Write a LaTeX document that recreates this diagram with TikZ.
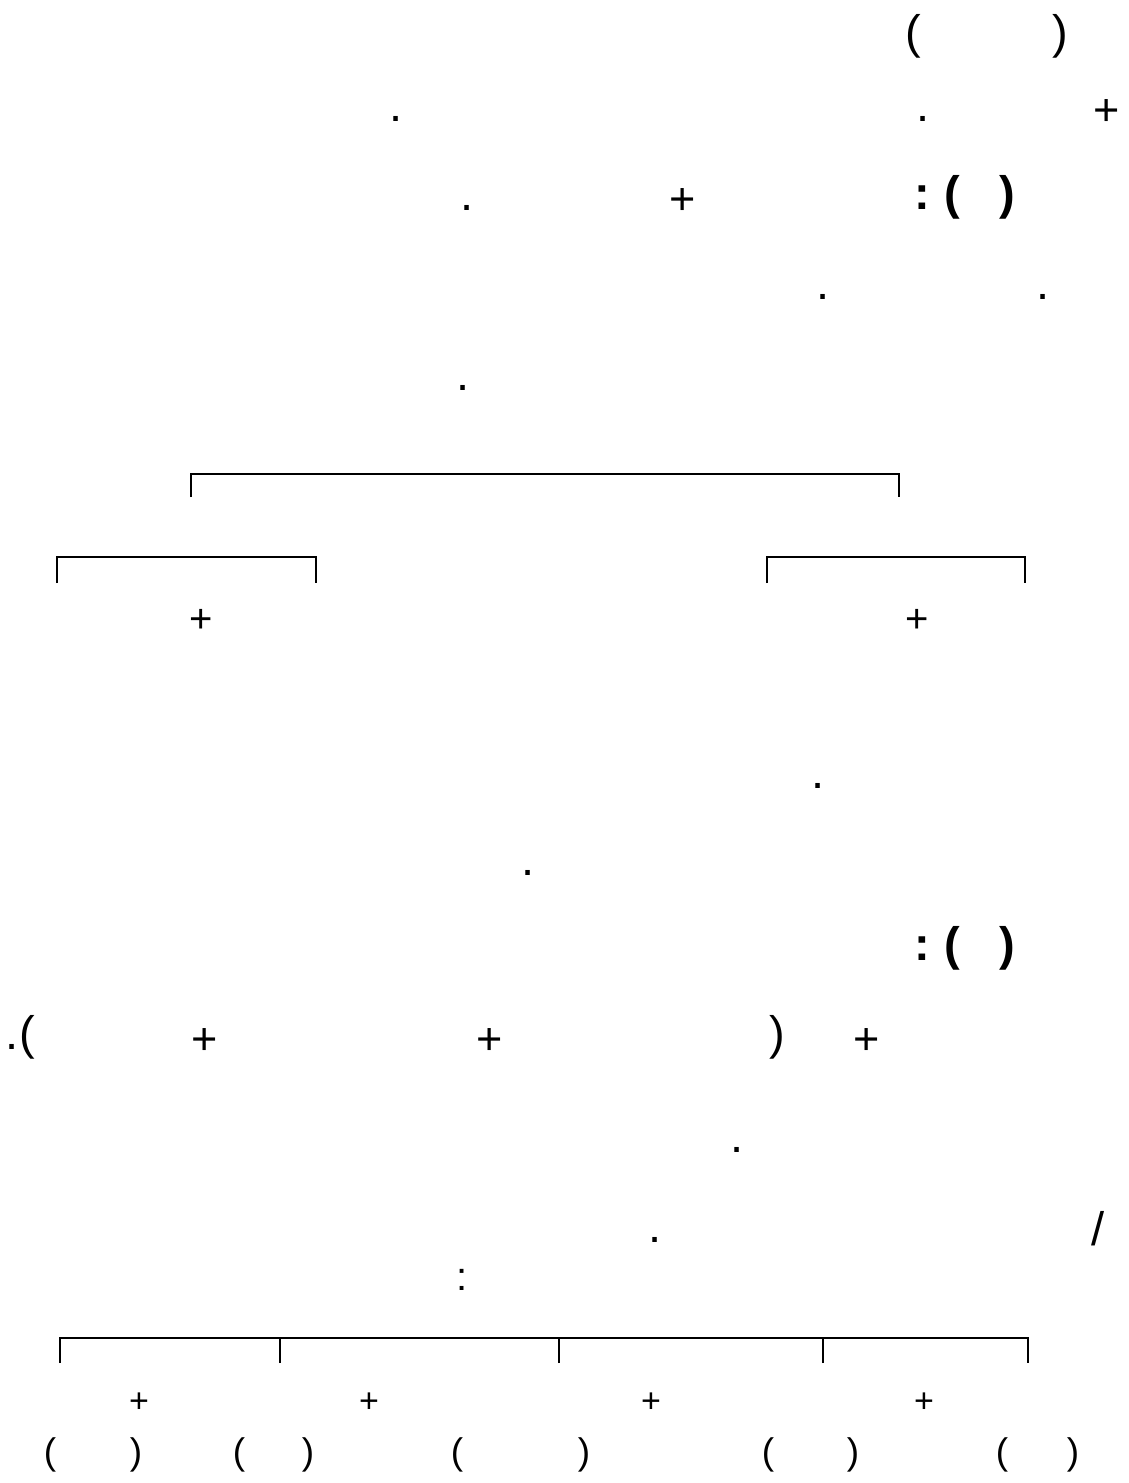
\documentclass[tikz,border=0pt]{standalone}
\usepackage{fontspec}
\setmainfont{Liberation Sans}
\tikzset{
  gl/.style={inner sep=0pt, anchor=base, font=\fontsize{47}{50}\selectfont},
  bgl/.style={inner sep=0pt, anchor=base, font=\fontsize{47}{50}\selectfont\bfseries},
  pl/.style={inner sep=0pt, anchor=base, font=\fontsize{45}{50}\selectfont},
  tpl/.style={inner sep=0pt, anchor=base, font=\fontsize{40}{44}\selectfont},
  cl/.style={inner sep=0pt, anchor=base, font=\fontsize{40}{44}\selectfont},
  bpl/.style={inner sep=0pt, anchor=base, font=\fontsize{34}{38}\selectfont},
  bpar/.style={inner sep=0pt, anchor=base, font=\fontsize{37}{40}\selectfont},
  brk/.style={line width=1.3pt, line cap=butt, line join=miter}
}
\begin{document}
\begin{tikzpicture}[x=1pt, y=-1pt]
\useasboundingbox (0,0) rectangle (1128,1483);
% line 1
\node[gl] (l1a) at (913,48) {(};
\node[gl] (l1b) at (1060,48) {)};
% line 2
\node[gl] (l2a) at (396,121) {.};
\node[gl] (l2b) at (923,121) {.};
\node[pl] (l2c) at (1107,125) {+};
% line 3
\node[gl] (l3a) at (467,210) {.};
\node[pl] (l3b) at (683,214) {+};
\node[bgl] (l3c) at (922,209) {:};
\node[bgl] (l3d) at (952,209) {(};
\node[bgl] (l3e) at (1007,209) {)};
% line 4
\node[gl] (l4a) at (823,299) {.};
\node[gl] (l4b) at (1043,299) {.};
% line 5
\node[gl] (l5a) at (463,390) {.};
% tree brackets
\coordinate (tL) at (191,497); \coordinate (tLt) at (191,474);
\coordinate (tR) at (899,497); \coordinate (tRt) at (899,474);
\draw[brk] (tL) -- (tLt) -- (tRt) -- (tR);
\coordinate (aL) at (57,583); \coordinate (aLt) at (57,557);
\coordinate (aR) at (316,583); \coordinate (aRt) at (316,557);
\draw[brk] (aL) -- (aLt) -- (aRt) -- (aR);
\coordinate (cL) at (767,583); \coordinate (cLt) at (767,557);
\coordinate (cR) at (1025,583); \coordinate (cRt) at (1025,557);
\draw[brk] (cL) -- (cLt) -- (cRt) -- (cR);
\node[tpl] (tp1) at (201,632) {+};
\node[tpl] (tp2) at (917,632) {+};
% lines 9-10
\node[gl] (l9a) at (818,788) {.};
\node[gl] (l10a) at (528,875) {.};
% line 11
\node[bgl] (l11a) at (922,960) {:};
\node[bgl] (l11b) at (952,960) {(};
\node[bgl] (l11c) at (1007,960) {)};
% line 12
\node[gl] (l12a) at (12,1049) {.};
\node[gl] (l12b) at (27,1049) {(};
\node[pl] (l12c) at (205,1054) {+};
\node[pl] (l12d) at (490,1054) {+};
\node[gl] (l12e) at (777,1049) {)};
\node[pl] (l12f) at (867,1054) {+};
% line 13-15
\node[gl] (l13a) at (737,1152) {.};
\node[gl] (l14a) at (655,1242) {.};
\node[gl] (l14b) at (1098,1245) {/};
\node[cl] (l15a) at (462,1290) {:};
% bottom bracket
\coordinate (b1) at (60,1363); \coordinate (b1t) at (60,1338);
\coordinate (b2) at (280,1363); \coordinate (b2t) at (280,1338);
\coordinate (b3) at (559,1363); \coordinate (b3t) at (559,1338);
\coordinate (b4) at (823,1363); \coordinate (b4t) at (823,1338);
\coordinate (b5) at (1028,1363); \coordinate (b5t) at (1028,1338);
\draw[brk] (b1) -- (b1t) -- (b5t) -- (b5);
\draw[brk] (b2) -- (b2t);
\draw[brk] (b3) -- (b3t);
\draw[brk] (b4) -- (b4t);
\node[bpl] (bp1) at (139,1412) {+};
\node[bpl] (bp2) at (369,1412) {+};
\node[bpl] (bp3) at (651,1412) {+};
\node[bpl] (bp4) at (924,1412) {+};
\node[bpar] (q1) at (50,1464) {(};
\node[bpar] (q2) at (136,1464) {)};
\node[bpar] (q3) at (239,1464) {(};
\node[bpar] (q4) at (308,1464) {)};
\node[bpar] (q5) at (457,1464) {(};
\node[bpar] (q6) at (584,1464) {)};
\node[bpar] (q7) at (768,1464) {(};
\node[bpar] (q8) at (853,1464) {)};
\node[bpar] (q9) at (1002,1464) {(};
\node[bpar] (q10) at (1073,1464) {)};
\end{tikzpicture}
\end{document}
